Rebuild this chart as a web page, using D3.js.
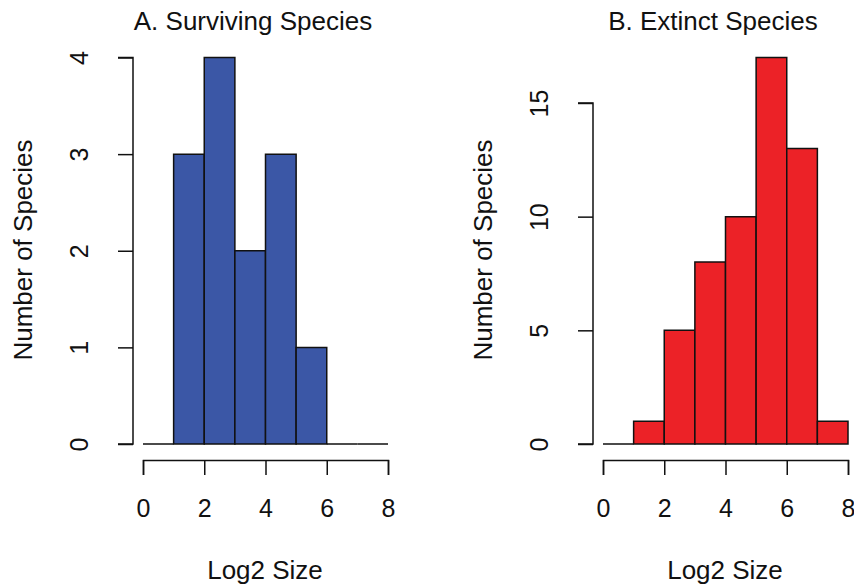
<!DOCTYPE html>
<html>
<head>
    <style>
        body { margin: 0; background: #fff; }
        text { font-family: "Liberation Sans", Arial, Helvetica, sans-serif; fill: #111; }
        .bar { stroke: #111; stroke-width: 1.5; }
        .axis path, .axis line { stroke: #111; stroke-width: 1.5; }
        .axis text { font-size: 25px; fill: #111; }
        .title, .label { font-size: 26px; }
    </style>
</head>
<body>

<svg width="854" height="588"></svg>
<script src="https://cdn.jsdelivr.net/npm/d3@7"></script>
<script>

// histogram bins (log2 size), width 1
var binStarts = [0, 1, 2, 3, 4, 5, 6, 7];
var survivingCounts = [0, 3, 4, 2, 3, 1, 0, 0];
var extinctCounts = [0, 1, 5, 8, 10, 17, 13, 1];

var xTicks = [0, 2, 4, 6, 8];
var survivingTicks = [0, 1, 2, 3, 4];
var extinctTicks = [0, 5, 10, 15];

var svg = d3.select("svg");

function panel(opt) {
    var x = d3.scaleLinear().domain([0, 8]).range([opt.left, opt.left + 245]);
    var y = d3.scaleLinear().domain([0, d3.max(opt.counts)]).range([444, 57.5]);
    var g = svg.append("g");

    // paths instead of rects so empty bins still show as a flat line
    g.selectAll(".bar")
        .data(opt.counts)
        .enter().append("path")
        .attr("class", "bar")
        .attr("fill", opt.color)
        .attr("d", function(d, i) {
            var x0 = x(binStarts[i]), x1 = x(binStarts[i] + 1);
            return "M" + x0 + "," + y(0) + "V" + y(d) + "H" + x1 + "V" + y(0) + "Z";
        });

    // x axis
    var xa = g.append("g")
        .attr("class", "axis")
        .attr("transform", "translate(0,460)")
        .call(d3.axisBottom(x).tickValues(xTicks).tickSize(15).tickSizeOuter(15).tickFormat(d3.format("d")));
    xa.selectAll("text").attr("y", 57).attr("dy", 0);

    // y axis
    var ya = g.append("g")
        .attr("class", "axis")
        .attr("transform", "translate(" + (opt.left - 10) + ",0)")
        .call(d3.axisLeft(y).tickValues(opt.ticks).tickSize(15).tickSizeOuter(15).tickFormat(d3.format("d")));
    ya.selectAll("text")
        .attr("x", 0).attr("dy", 0)
        .attr("text-anchor", "middle")
        .attr("transform", "translate(-45,0) rotate(-90)");
    ya.select(".domain").attr("d", "M-15," + y(d3.max(opt.ticks)) + "H0V" + y(0) + "H-15");

    g.append("text")
        .attr("class", "title")
        .attr("x", opt.left + 110)
        .attr("y", 30)
        .attr("text-anchor", "middle")
        .text(opt.title);

    g.append("text")
        .attr("class", "label")
        .attr("x", opt.left + 122)
        .attr("y", 579)
        .attr("text-anchor", "middle")
        .text("Log2 Size");

    g.append("text")
        .attr("class", "label")
        .attr("transform", "translate(" + (opt.left - 111) + ",250) rotate(-90)")
        .attr("text-anchor", "middle")
        .text("Number of Species");
}

panel({left: 143, counts: survivingCounts, ticks: survivingTicks, color: "#3b57a6", title: "A. Surviving Species"});
panel({left: 603, counts: extinctCounts, ticks: extinctTicks, color: "#ec2227", title: "B. Extinct Species"});

</script>
</body>
</html>
